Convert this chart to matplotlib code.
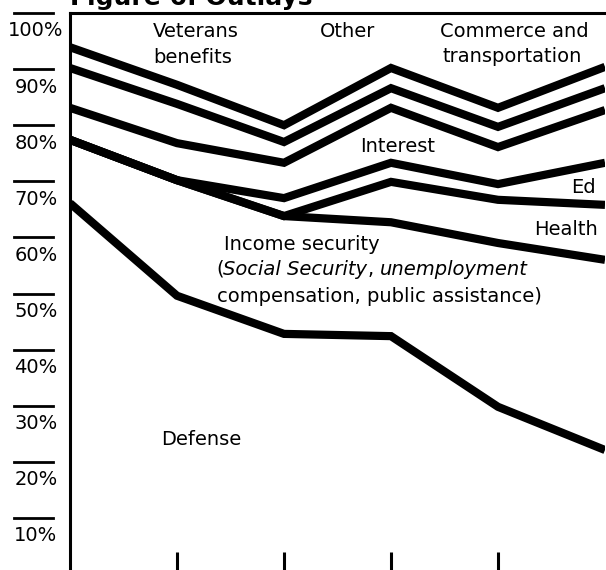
import matplotlib
matplotlib.use("Agg")
import matplotlib.pyplot as plt
import matplotlib.transforms as mtransforms

# x positions of the periods (tick marks, no labels visible)
periods = [0, 1, 2, 3, 4, 5]

# cumulative share of outlays (%) at the top of each band, bottom to top
defense_top = [66.1, 49.6, 42.8, 42.4, 29.8, 22.1]
income_top = [77.4, 70.2, 63.8, 62.7, 59.0, 56.0]
health_top = [77.4, 70.2, 63.8, 69.9, 66.7, 65.8]
ed_top = [77.4, 70.2, 67.0, 73.3, 69.5, 73.3]
interest_top = [83.1, 76.8, 73.3, 83.1, 76.1, 82.7]
upper_line_2 = [90.2, 83.8, 77.0, 86.6, 79.7, 86.6]
upper_line_1 = [93.9, 87.2, 80.0, 90.2, 83.1, 90.4]

boundaries = [defense_top, income_top, health_top, ed_top,
              interest_top, upper_line_2, upper_line_1]

y_levels = [100, 90, 80, 70, 60, 50, 40, 30, 20, 10]

W, H = 606, 570
plt.rcParams['font.family'] = ['DejaVu Sans']
fig = plt.figure(figsize=(W / 100, H / 100), dpi=100)
ax = fig.add_axes([70 / W, -4 / H, 535 / W, 561 / H])

for b in boundaries:
    ax.plot(periods, b, color='black', lw=5.9,
            solid_joinstyle='miter', solid_capstyle='butt')

ax.set_xlim(0, 5)
ax.set_ylim(0, 100)
ax.set_xticks([1, 2, 3, 4])
ax.tick_params(axis='x', direction='in', length=16, width=2.2,
               labelbottom=False)
ax.set_yticks([])
for side in ['right', 'bottom']:
    ax.spines[side].set_visible(False)
for side in ['left', 'top']:
    ax.spines[side].set_linewidth(2.2)

# y "ticks": short bar at the level, label just under it
blend = mtransforms.blended_transform_factory(fig.transFigure, ax.transData)
for v in y_levels:
    ax.plot([14 / W, 53 / W], [v, v], color='black', lw=2.0,
            transform=blend, clip_on=False)
    ax.text(36 / W, v - 1.5, f'{v}%', transform=blend, ha='center',
            va='top', fontsize=14)

fs = 14
txt = dict(fontsize=fs, va='baseline')
ax.text(0.776, 95.78, 'Veterans', **txt)
ax.text(0.776, 91.03, 'benefits', **txt)
ax.text(2.336, 95.78, 'Other', **txt)
ax.text(3.458, 95.78, 'Commerce and', **txt)
ax.text(3.477, 91.32, 'transportation', **txt)
ax.text(2.710, 75.28, 'Interest', **txt)
ax.text(4.916, 67.86, 'Ed', ha='right', **txt)
ax.text(4.935, 60.43, 'Health', ha='right', **txt)
ax.text(1.439, 57.75, 'Income security', **txt)

# mixed upright / italic line
t = ax.text(1.364, 53.30, '(', **txt)
t = ax.annotate('Social Security', xy=(1, 0), xycoords=t, va='bottom',
                fontsize=fs, style='italic')
t = ax.annotate(',', xy=(1, 0), xycoords=t, va='bottom', fontsize=fs)
t = ax.annotate('unemployment', xy=(1, 0), xycoords=t, va='bottom',
                fontsize=fs, style='italic', xytext=(4.5, 0),
                textcoords='offset points')
ax.text(1.374, 48.54, 'compensation, public assistance)', **txt)
ax.text(0.850, 23.0, 'Defense', **txt)

fig.text(70 / W, 1 - 5 / H, 'Figure 6: Outlays', fontsize=18,
         fontweight='bold', va='baseline')

fig.savefig('out.png', dpi=100)
